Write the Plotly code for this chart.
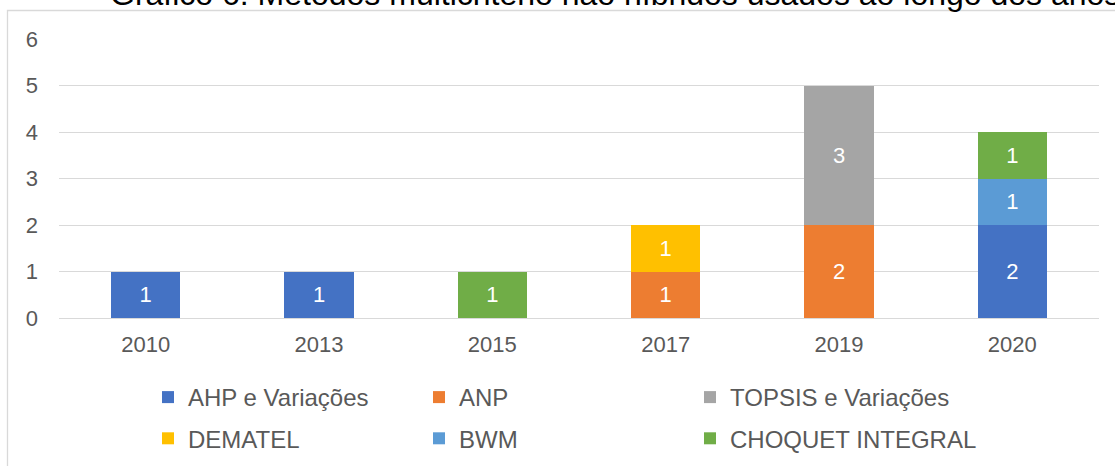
import plotly.graph_objects as go

years = ["2010", "2013", "2015", "2017", "2019", "2020"]
ahp = [1, 1, None, None, None, 2]
anp = [None, None, None, 1, 2, None]
topsis = [None, None, None, None, 3, None]
dematel = [None, None, None, 1, None, None]
bwm = [None, None, None, None, None, 1]
choquet = [None, None, 1, None, None, 1]

series = [
    ("AHP e Variações", ahp, "#4472C4", "legend"),
    ("ANP", anp, "#ED7D31", "legend2"),
    ("TOPSIS e Variações", topsis, "#A5A5A5", "legend3"),
    ("DEMATEL", dematel, "#FFC000", "legend"),
    ("BWM", bwm, "#5B9BD5", "legend2"),
    ("CHOQUET INTEGRAL", choquet, "#70AD47", "legend3"),
]

title_text = "Gráfico 6: Métodos multicritério não híbridos usados ao longo dos anos"

W, H = 1115, 466
L, R, T, B = 59, 16, 39, 148
pw, ph = W - L - R, H - T - B

def px_x(p):
    return (p - L) / pw

def px_y(p):
    return (H - B - p) / ph

FONT = "Liberation Sans, Arial, sans-serif"
GREY = "#595959"

fig = go.Figure()
for name, vals, color, leg in series:
    fig.add_trace(go.Bar(
        x=years, y=vals, name=name, legend=leg, legendgroup=name,
        marker=dict(color=color, line=dict(width=0)),
        text=[str(v) if v is not None else "" for v in vals],
        textposition="inside", insidetextanchor="middle",
        textfont=dict(color="white", size=22, family=FONT),
        hoverinfo="skip",
    ))

leg_common = dict(
    orientation="v", yanchor="top", xanchor="left",
    font=dict(size=24, color=GREY, family=FONT),
    bgcolor="rgba(0,0,0,0)", tracegroupgap=7, itemwidth=30,
    traceorder="grouped",
)
leg_top = px_y(375)

fig.update_layout(
    width=W, height=H,
    margin=dict(l=L, r=R, t=T, b=B, autoexpand=False),
    barmode="stack", bargap=0.6,
    plot_bgcolor="white", paper_bgcolor="white",
    font=dict(family=FONT, color=GREY, size=22),
    xaxis=dict(showgrid=False, showline=False, zeroline=False,
               tickfont=dict(size=22, color=GREY), ticks="", ticklabelstandoff=11),
    yaxis=dict(range=[0, 6], dtick=1, showgrid=True, gridcolor="#D9D9D9", gridwidth=1.3,
               zeroline=True, zerolinecolor="#D9D9D9", zerolinewidth=1.3,
               showline=False, ticks="", tickfont=dict(size=22, color=GREY),
               ticklabelstandoff=20),
    legend=dict(x=px_x(148), y=leg_top, **leg_common),
    legend2=dict(x=px_x(419), y=leg_top, **leg_common),
    legend3=dict(x=px_x(690), y=leg_top, **leg_common),
    showlegend=True,
)

fig.add_shape(type="rect", xref="paper", yref="paper",
              x0=px_x(7.5), x1=px_x(1125), y0=px_y(480), y1=px_y(10.5),
              line=dict(color="#D9D9D9", width=1.3), fillcolor="rgba(0,0,0,0)", layer="below")

fig.add_annotation(text=title_text, xref="paper", yref="paper",
                   x=px_x(108), y=px_y(14), xanchor="left", yanchor="bottom",
                   showarrow=False, font=dict(size=32, color="black", family=FONT))

fig.write_html("out.html", config={"displayModeBar": False},
               post_script="document.body.style.margin='0';")
